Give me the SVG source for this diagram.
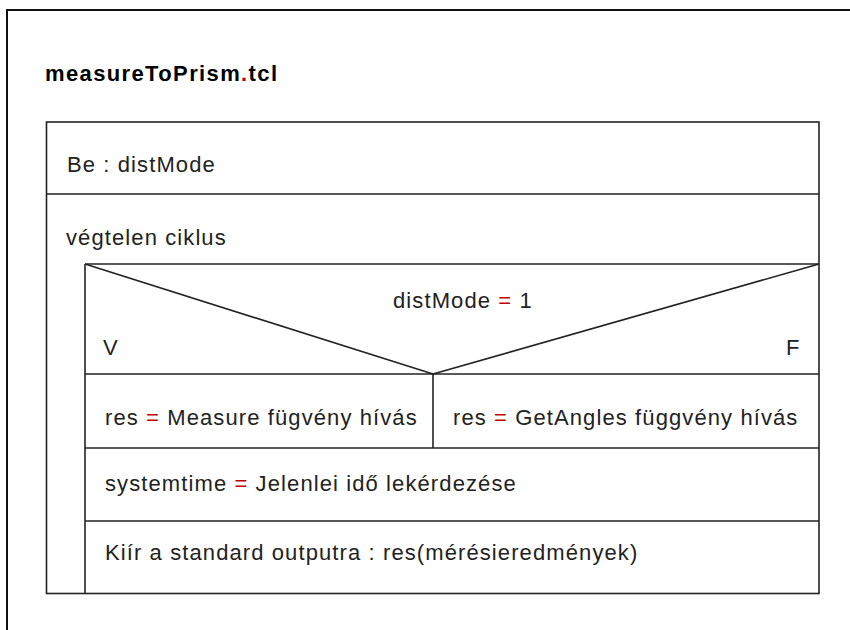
<svg xmlns="http://www.w3.org/2000/svg" width="850" height="630" viewBox="0 0 850 630">
<style>
.ln{stroke:#222;stroke-width:1.6;fill:none}
.t{font-family:"Liberation Sans",Arial,sans-serif;font-size:22px;fill:#222;letter-spacing:1.1px}
.r{fill:#c00000}
.b{font-weight:bold;fill:#000;letter-spacing:0}
</style>
<rect x="0" y="0" width="850" height="630" fill="#fff"/>
<rect x="7" y="10" width="900" height="700" fill="none" stroke="#111" stroke-width="2"/>
<text class="t b" x="45" y="81" textLength="232" lengthAdjust="spacing">measureToPrism<tspan class="r">.</tspan>tcl</text>
<g id="main">
<rect class="ln" x="46.5" y="122" width="772.5" height="471.5"/>
</g>
<g id="input">
<line class="ln" x1="46.5" y1="194" x2="819" y2="194"/>
<text class="t" x="67" y="172">Be : distMode</text>
</g>
<g id="loop">
<line class="ln" x1="85" y1="264" x2="85" y2="593.5"/>
<text class="t" x="66" y="245">végtelen ciklus</text>
</g>
<g id="decision">
<line class="ln" x1="85" y1="264" x2="819" y2="264"/>
<line class="ln" x1="85" y1="264" x2="433" y2="374"/>
<line class="ln" x1="819" y1="264" x2="433" y2="374"/>
<line class="ln" x1="85" y1="374" x2="819" y2="374"/>
<text class="t" x="393" y="308">distMode <tspan class="r">=</tspan> 1</text>
<text class="t" x="103" y="355">V</text>
<text class="t" x="786" y="355">F</text>
</g>
<g id="branchTrue">
<text class="t" x="105" y="425">res <tspan class="r">=</tspan> Measure fügvény hívás</text>
</g>
<g id="branchFalse">
<line class="ln" x1="433" y1="374" x2="433" y2="448"/>
<text class="t" x="453" y="425">res <tspan class="r">=</tspan> GetAngles függvény hívás</text>
</g>
<g id="systemtime">
<line class="ln" x1="85" y1="448" x2="819" y2="448"/>
<text class="t" x="105" y="491">systemtime <tspan class="r">=</tspan> Jelenlei idő lekérdezése</text>
</g>
<g id="output">
<line class="ln" x1="85" y1="521" x2="819" y2="521"/>
<text class="t" x="105" y="560">Kiír a standard outputra : res(mérésieredmények)</text>
</g>
</svg>
